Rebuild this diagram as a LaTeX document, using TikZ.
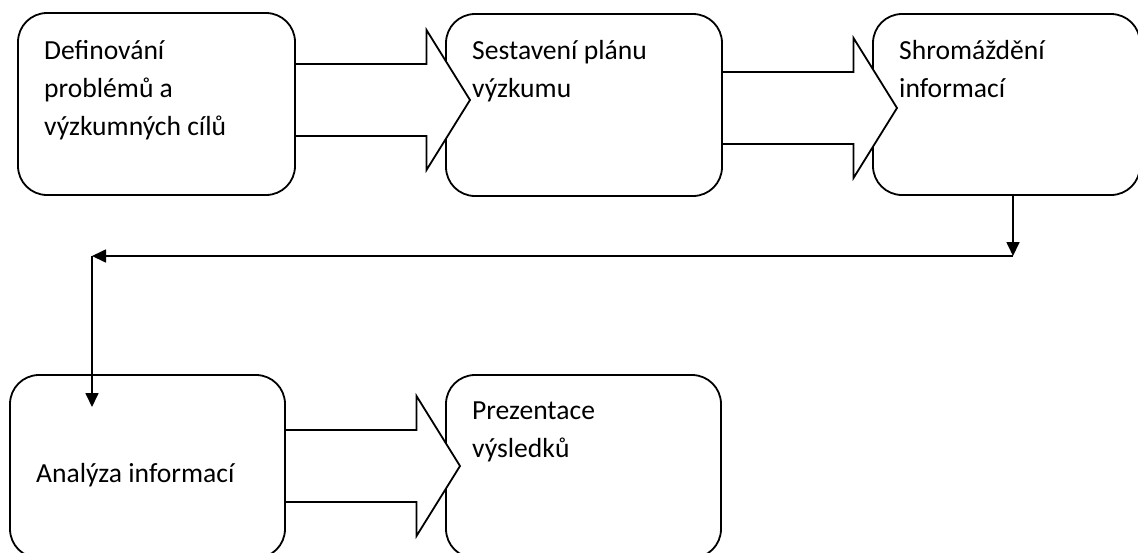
\documentclass[tikz,border=0pt]{standalone}
\usepackage{fontspec}
\setmainfont{Carlito}
\usetikzlibrary{arrows.meta,calc}

% Wide outlined arrow from the east side of one box into the next one.
% #1 source box, #2 target box, #3 y of the arrow axis, #4 tip offset past the target's west side
\newcommand\blockarrow[4]{%
  \path (#1.east |- 0,#3) coordinate (#1-out);
  \path (#2.west |- 0,#3) coordinate (#2-in);
  \filldraw[blockarrow] let \p1=($(#1-out)+(1,0)$), \p2=($(#2-in)+(#4,0)$) in
    (\x1,\y1+36pt) -- (\x2-43.5pt,\y1+36pt) -- (\x2-43.5pt,\y1+70pt)
    -- (\x2,\y2) -- (\x2-43.5pt,\y1-70pt) -- (\x2-43.5pt,\y1-36pt) -- (\x1,\y1-36pt);%
}

\begin{document}
\begin{tikzpicture}[x=1pt,y=-1pt,
  box/.style={draw, line width=1.8pt, rounded corners=29pt, anchor=north west,
    inner sep=0pt, outer sep=0pt},
  label/.style={anchor=base west, inner sep=0pt, font=\fontsize{27.6}{38}\selectfont},
  conn/.style={line width=1.7pt, -{Triangle[length=14pt,width=13pt]}},
  blockarrow/.style={line width=1.8pt, fill=white, line join=miter}]
\useasboundingbox (0,0) rectangle (1138,552);

% process boxes
\node[box, minimum width=277pt, minimum height=182pt] (b1) at (18,13) {};
\node[box, minimum width=276pt, minimum height=182pt] (b2) at (446,14) {};
\node[box, minimum width=267pt, minimum height=181pt] (b3) at (873,14) {};
\node[box, minimum width=275pt, minimum height=183pt] (b4) at (10,375) {};
\node[box, minimum width=275pt, minimum height=183pt] (b5) at (446,375) {};

% wide arrows between neighbouring boxes
\blockarrow{b1}{b2}{100}{24}
\blockarrow{b2}{b3}{108}{24}
\blockarrow{b4}{b5}{466}{14}

% return line from the top row down to the bottom row
\coordinate (c1) at (1013,256);
\coordinate (c2) at (92,256);
\coordinate (c3) at (92,407);
\draw[conn] (b3.south -| c1) -- (c1);
\draw[conn] (c1) -- (c2);
\draw[conn] (c2) -- (c3);

% box texts
\node[label] (t1) at (44,59) {\begin{tabular}[t]{@{}l@{}}Definování\\problémů a\\výzkumných cílů\end{tabular}};
\node[label] (t2) at (472,59) {\begin{tabular}[t]{@{}l@{}}Sestavení plánu\\výzkumu\end{tabular}};
\node[label] (t3) at (899,59) {\begin{tabular}[t]{@{}l@{}}Shromáždění\\informací\end{tabular}};
\node[label] (t4) at (36,482) {Analýza informací};
\node[label] (t5) at (472,419) {\begin{tabular}[t]{@{}l@{}}Prezentace\\výsledků\end{tabular}};
\end{tikzpicture}
\end{document}
